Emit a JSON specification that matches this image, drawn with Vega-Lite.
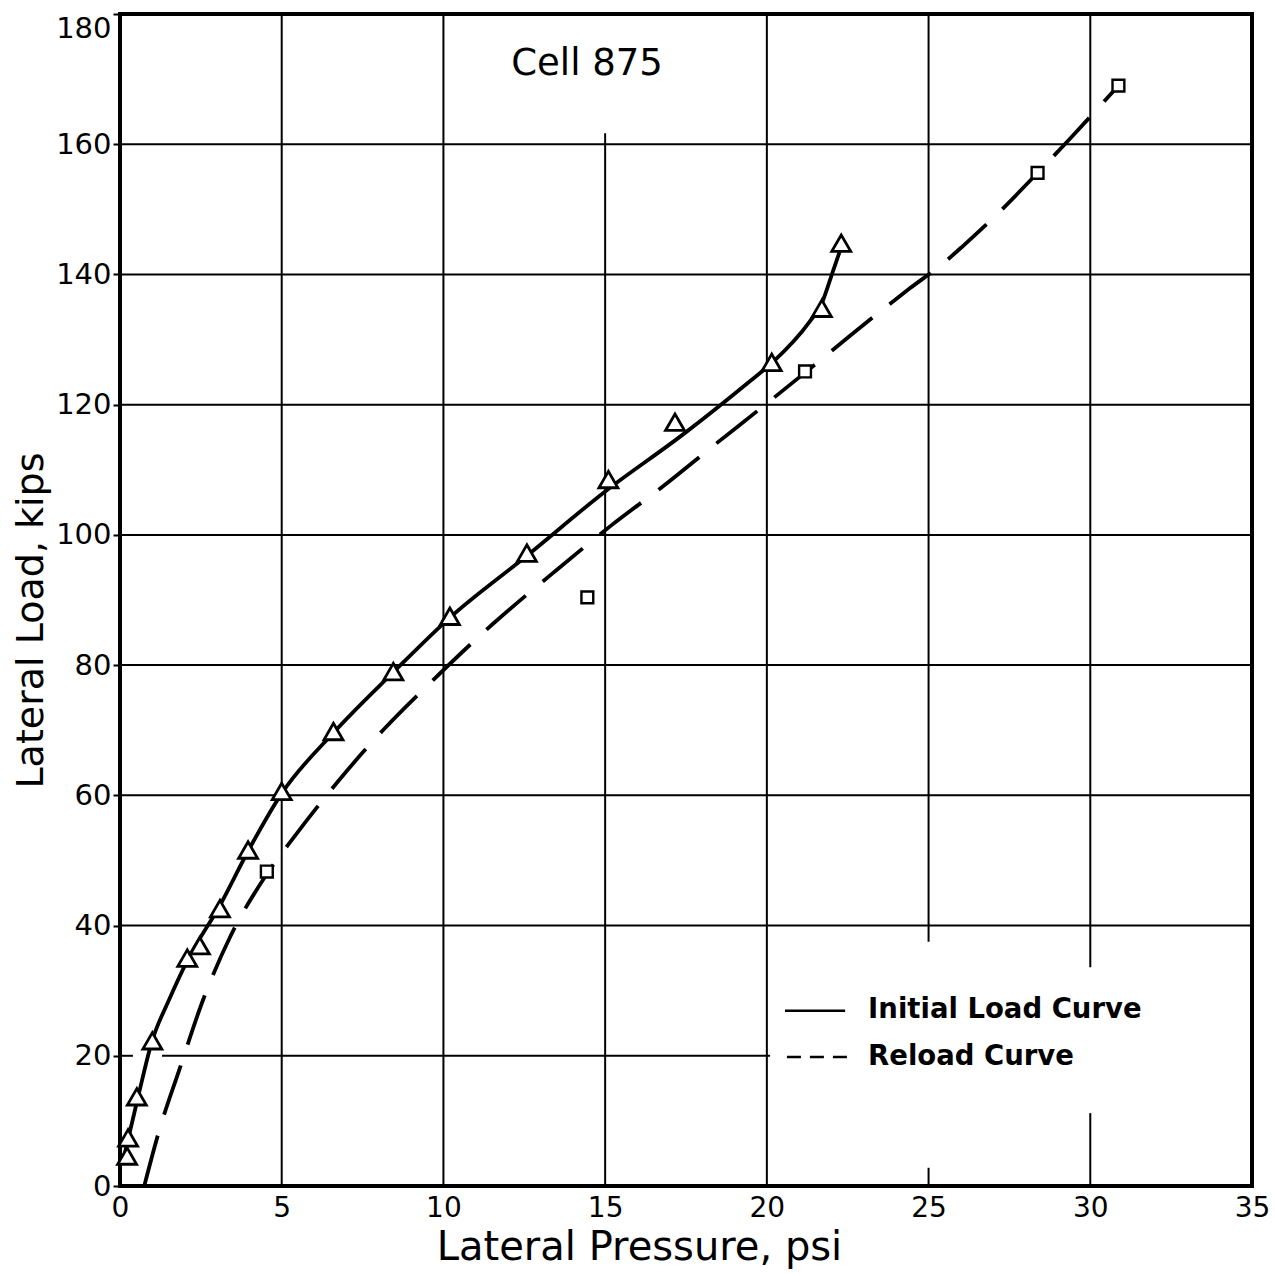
{
  "$schema": "https://vega.github.io/schema/vega-lite/v6.json",
  "width": 1132,
  "height": 1172,
  "autosize": "none",
  "padding": {"left": 120, "top": 14, "right": 23, "bottom": 90},
  "background": "white",
  "config": {
    "view": {"stroke": "black", "strokeWidth": 4},
    "axis": {
      "domain": false,
      "grid": false,
      "labelFont": "DejaVu Sans",
      "labelColor": "black",
      "titleFont": "DejaVu Sans",
      "titleColor": "black",
      "titleFontWeight": "normal"
    },
    "text": {"font": "DejaVu Sans", "color": "black"}
  },
  "datasets": {
    "vgrid": [
      {"pressure": 5, "load": 0, "load2": 180},
      {"pressure": 10, "load": 0, "load2": 180},
      {"pressure": 15, "load": 0, "load2": 161.7},
      {"pressure": 20, "load": 0, "load2": 180},
      {"pressure": 25, "load": 37.5, "load2": 180},
      {"pressure": 25, "load": 0, "load2": 2.8},
      {"pressure": 30, "load": 33.6, "load2": 180},
      {"pressure": 30, "load": 0, "load2": 11.2}
    ],
    "hgrid": [
      {"load": 20, "pressure": 0, "pressure2": 0.4},
      {"load": 20, "pressure": 1.3, "pressure2": 20.1},
      {"load": 40, "pressure": 0, "pressure2": 35},
      {"load": 60, "pressure": 0, "pressure2": 35},
      {"load": 80, "pressure": 0, "pressure2": 35},
      {"load": 100, "pressure": 0, "pressure2": 35},
      {"load": 120, "pressure": 0, "pressure2": 35},
      {"load": 140, "pressure": 0, "pressure2": 35},
      {"load": 160, "pressure": 0, "pressure2": 35}
    ],
    "initial_curve": [
      {"pressure": 0.1, "load": 4.0},
      {"pressure": 0.56, "load": 13.7},
      {"pressure": 1.0, "load": 22.4},
      {"pressure": 1.5, "load": 28.4},
      {"pressure": 2.07, "load": 34.5},
      {"pressure": 3.1, "load": 43.2},
      {"pressure": 4.0, "load": 51.8},
      {"pressure": 5.0, "load": 60.3},
      {"pressure": 6.6, "load": 69.6},
      {"pressure": 8.45, "load": 78.9},
      {"pressure": 10.2, "load": 87.3},
      {"pressure": 12.58, "load": 96.8},
      {"pressure": 15.06, "load": 106.9},
      {"pressure": 17.4, "load": 115.4},
      {"pressure": 19.4, "load": 123.3},
      {"pressure": 20.2, "load": 126.6},
      {"pressure": 21.3, "load": 132.6},
      {"pressure": 21.7, "load": 135.6},
      {"pressure": 22.05, "load": 140.6},
      {"pressure": 22.3, "load": 144.2}
    ],
    "reload_curve": [
      {"pressure": 0.75, "load": 0},
      {"pressure": 1.2, "load": 8.3},
      {"pressure": 1.83, "load": 17.8},
      {"pressure": 2.57, "load": 28.6},
      {"pressure": 3.4, "load": 38.2},
      {"pressure": 4.5, "load": 47.6},
      {"pressure": 5.35, "load": 53.4},
      {"pressure": 6.7, "load": 61.9},
      {"pressure": 8.13, "load": 70.0},
      {"pressure": 9.68, "load": 77.7},
      {"pressure": 11.5, "load": 86.2},
      {"pressure": 13.4, "load": 94.2},
      {"pressure": 15.2, "load": 101.5},
      {"pressure": 16.85, "load": 107.7},
      {"pressure": 18.3, "load": 113.5},
      {"pressure": 19.9, "load": 119.8},
      {"pressure": 21.2, "load": 125.0},
      {"pressure": 22.6, "load": 130.7},
      {"pressure": 24.43, "load": 137.9},
      {"pressure": 25.5, "load": 141.9},
      {"pressure": 26.07, "load": 144.4},
      {"pressure": 27.15, "load": 149.4},
      {"pressure": 28.37, "load": 155.6},
      {"pressure": 29.4, "load": 161.0},
      {"pressure": 30.87, "load": 169.0}
    ],
    "initial_pts": [
      {"pressure": 0.22, "load": 4.6},
      {"pressure": 0.25, "load": 7.4},
      {"pressure": 0.52, "load": 13.7},
      {"pressure": 1.0, "load": 22.3},
      {"pressure": 2.08, "load": 35.0},
      {"pressure": 2.47, "load": 36.9},
      {"pressure": 3.09, "load": 42.6},
      {"pressure": 3.96, "load": 51.6},
      {"pressure": 5.0, "load": 60.6},
      {"pressure": 6.6, "load": 69.8},
      {"pressure": 8.45, "load": 79.0},
      {"pressure": 10.2, "load": 87.5},
      {"pressure": 12.58, "load": 97.2},
      {"pressure": 15.1, "load": 108.5},
      {"pressure": 17.16, "load": 117.3},
      {"pressure": 20.15, "load": 126.5},
      {"pressure": 21.7, "load": 134.8},
      {"pressure": 22.3, "load": 144.8}
    ],
    "reload_pts": [
      {"pressure": 4.54, "load": 48.3},
      {"pressure": 14.45, "load": 90.4},
      {"pressure": 21.18, "load": 125.1},
      {"pressure": 28.37, "load": 155.6},
      {"pressure": 30.87, "load": 169.0}
    ]
  },
  "layer": [
    {
      "data": {"name": "vgrid"},
      "mark": {"type": "rule", "color": "black", "strokeWidth": 2},
      "encoding": {
        "x": {
          "field": "pressure",
          "type": "quantitative",
          "scale": {"domain": [0, 35], "nice": false},
          "axis": {
            "title": "Lateral Pressure, psi",
            "values": [0, 5, 10, 15, 20, 25, 30, 35],
            "ticks": false,
            "labelFontSize": 28,
            "labelPadding": 8,
            "labelFlush": false,
            "titleFontSize": 40,
            "titleX": 519,
            "titleY": 73,
            "titleBaseline": "alphabetic",
            "titleAlign": "center"
          }
        },
        "y": {
          "field": "load",
          "type": "quantitative",
          "scale": {"domain": [0, 180], "nice": false},
          "axis": {
            "title": "Lateral Load, kips",
            "values": [0, 20, 40, 60, 80, 100, 120, 140, 160, 180],
            "ticks": true,
            "tickSize": 7,
            "tickWidth": 2,
            "tickColor": "black",
            "labelFontSize": 29,
            "labelPadding": 2,
            "labelFlush": false,
            "labelBaseline": {"condition": {"test": "datum.value == 180", "value": "top"}, "value": "middle"},
            "titleFontSize": 38,
            "titleX": -78,
            "titleY": 606,
            "titleBaseline": "alphabetic",
            "titleAlign": "center",
            "titleAngle": -90
          }
        },
        "y2": {"field": "load2"}
      }
    },
    {
      "data": {"name": "hgrid"},
      "mark": {"type": "rule", "color": "black", "strokeWidth": 2},
      "encoding": {
        "y": {"field": "load", "type": "quantitative"},
        "x": {"field": "pressure", "type": "quantitative"},
        "x2": {"field": "pressure2"}
      }
    },
    {
      "data": {"name": "reload_curve"},
      "mark": {"type": "line", "interpolate": "monotone", "color": "black", "strokeWidth": 3.8, "strokeDash": [52, 22], "strokeCap": "butt"},
      "encoding": {
        "x": {"field": "pressure", "type": "quantitative"},
        "y": {"field": "load", "type": "quantitative"}
      }
    },
    {
      "data": {"name": "initial_curve"},
      "mark": {"type": "line", "interpolate": "monotone", "color": "black", "strokeWidth": 3.8},
      "encoding": {
        "x": {"field": "pressure", "type": "quantitative"},
        "y": {"field": "load", "type": "quantitative"}
      }
    },
    {
      "data": {"name": "reload_pts"},
      "mark": {"type": "point", "shape": "square", "filled": true, "fill": "white", "stroke": "black", "strokeWidth": 2.4, "size": 140, "opacity": 1},
      "encoding": {
        "x": {"field": "pressure", "type": "quantitative"},
        "y": {"field": "load", "type": "quantitative"}
      }
    },
    {
      "data": {"name": "initial_pts"},
      "mark": {"type": "point", "shape": "triangle-up", "filled": true, "fill": "white", "stroke": "black", "strokeWidth": 2.8, "size": 360, "opacity": 1},
      "encoding": {
        "x": {"field": "pressure", "type": "quantitative"},
        "y": {"field": "load", "type": "quantitative"}
      }
    },
    {
      "data": {"values": [{}]},
      "mark": {"type": "text", "fontSize": 37, "align": "center", "baseline": "middle", "text": "Cell 875"},
      "encoding": {
        "x": {"datum": 14.44},
        "y": {"datum": 172.3}
      }
    },
    {
      "data": {"values": [{}]},
      "mark": {"type": "rule", "color": "black", "strokeWidth": 2.5},
      "encoding": {
        "x": {"datum": 20.56},
        "x2": {"datum": 22.42},
        "y": {"datum": 26.9}
      }
    },
    {
      "data": {"values": [{}]},
      "mark": {"type": "rule", "color": "black", "strokeWidth": 2.5, "strokeDash": [14, 9], "strokeCap": "butt"},
      "encoding": {
        "x": {"datum": 20.62},
        "x2": {"datum": 22.51},
        "y": {"datum": 19.8}
      }
    },
    {
      "data": {"values": [{}]},
      "mark": {"type": "text", "fontSize": 27.5, "fontWeight": "bold", "align": "left", "baseline": "middle", "text": "Initial Load Curve"},
      "encoding": {
        "x": {"datum": 23.13},
        "y": {"datum": 27.0}
      }
    },
    {
      "data": {"values": [{}]},
      "mark": {"type": "text", "fontSize": 27.5, "fontWeight": "bold", "align": "left", "baseline": "middle", "text": "Reload Curve"},
      "encoding": {
        "x": {"datum": 23.13},
        "y": {"datum": 19.8}
      }
    }
  ]
}
